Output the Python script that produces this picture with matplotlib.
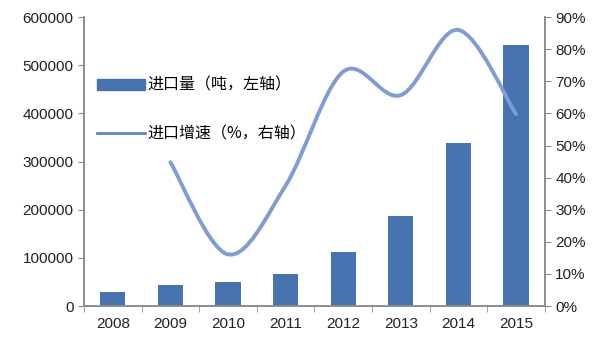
import numpy as np
import matplotlib.pyplot as plt
from matplotlib.path import Path
from matplotlib.patches import PathPatch
from matplotlib.lines import Line2D
from matplotlib.patches import Patch

plt.rcParams['font.family'] = ['Liberation Sans', 'Noto Sans CJK SC', 'DejaVu Sans']

# data
years = ['2008', '2009', '2010', '2011', '2012', '2013', '2014', '2015']
volume = [30000, 44000, 49000, 67000, 113000, 187000, 339000, 542000]   # tons, left axis
growth_years = [1, 2, 3, 4, 5, 6, 7]
growth = [44.8, 16.1, 37.5, 73.0, 65.7, 86.0, 59.8]                     # %, right axis

bar_color = '#4774B1'
line_color = '#7E9DD2'
axis_color = '#8C8C8C'

fig = plt.figure(figsize=(6, 3.42), dpi=100)
ax = fig.add_axes([0.14, 0.105, 0.768, 0.845])
ax2 = ax.twinx()

x = np.arange(len(years))
ax.bar(x, volume, width=0.44, color=bar_color, zorder=2)
ax.set_xlim(-0.5, len(years) - 0.5)
ax.set_ylim(0, 600000)
ax.set_yticks(range(0, 600001, 100000))
ax.set_xticks(x)
ax.set_xticklabels(years)
ax.set_xticks(np.arange(-0.5, len(years)), minor=True)
ax.tick_params(axis='x', which='major', length=0, pad=8, labelsize=11, colors='#222222')
ax.tick_params(axis='x', which='minor', length=4, direction='out', color=axis_color)
ax.tick_params(axis='y', length=4, direction='out', color=axis_color, labelsize=11,
               labelcolor='#222222')

# smooth curve like a spreadsheet "smoothed line" (Catmull-Rom bezier through points)
px = np.array(growth_years, dtype=float)
py = np.array(growth, dtype=float)
verts = [(px[0], py[0])]
codes = [Path.MOVETO]
n = len(px)
for i in range(n - 1):
    p0 = np.array([px[max(i - 1, 0)], py[max(i - 1, 0)]])
    p1 = np.array([px[i], py[i]])
    p2 = np.array([px[i + 1], py[i + 1]])
    p3 = np.array([px[min(i + 2, n - 1)], py[min(i + 2, n - 1)]])
    c1 = p1 + (p2 - p0) / 6.0
    c2 = p2 - (p3 - p1) / 6.0
    verts += [tuple(c1), tuple(c2), tuple(p2)]
    codes += [Path.CURVE4, Path.CURVE4, Path.CURVE4]
ax2.add_patch(PathPatch(Path(verts, codes), facecolor='none', edgecolor=line_color,
                        lw=2.8, capstyle='round', zorder=3))
ax2.set_ylim(0, 90)
ax2.set_yticks(range(0, 91, 10))
ax2.set_yticklabels([f'{v}%' for v in range(0, 91, 10)])
ax2.tick_params(axis='y', length=4, direction='out', color=axis_color, labelsize=11,
                labelcolor='#222222')

for a in (ax, ax2):
    a.spines['top'].set_visible(False)
    for s in ('left', 'right', 'bottom'):
        a.spines[s].set_color(axis_color)
        a.spines[s].set_linewidth(1.2)

handles = [Patch(color=bar_color), Line2D([0], [0], color='#5F82D4', lw=2)]
labels = ['进口量（吨，左轴）', '进口增速（%，右轴）']
fig.legend(handles, labels, loc='upper left', bbox_to_anchor=(0.161, 0.775),
           frameon=False, borderpad=0, borderaxespad=0, handlelength=3.0,
           handleheight=0.65, labelspacing=1.95, handletextpad=0.2,
           prop={'family': ['Noto Sans CJK SC'], 'size': 11.5})

fig.savefig('out.png', dpi=100)
